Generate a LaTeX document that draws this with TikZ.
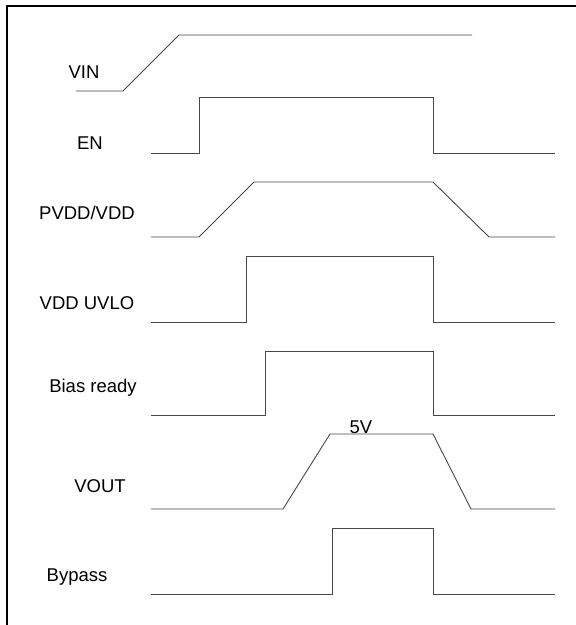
\documentclass[tikz,border=0pt]{standalone}
\usepackage{fontspec}
\setmainfont{Liberation Sans}
\begin{document}
\begin{tikzpicture}[x=1pt,y=-1pt,
  wave/.style={line width=0.9pt,draw=black!72,line join=miter},
  lbl/.style={font=\fontsize{18.5}{20}\selectfont,inner sep=0pt,anchor=center},
  frame/.style={line width=2.6pt,draw=black}]
\useasboundingbox (0,0) rectangle (576,625);
% frame (left and top edges)
\draw[frame] (7,626) -- (7,6) -- (577,6);
% VIN
\node[lbl] (vin) at (84,72) {VIN};
\draw[wave] (76,91) -- (123,91) -- (179,35) -- (472,35);
% EN
\node[lbl] (en) at (90,143) {EN};
\draw[wave] (151,153) -- (199,153) -- (199,97) -- (433,97) -- (433,153) -- (555,153);
% PVDD/VDD
\node[lbl] (pvdd) at (87,213) {PVDD/VDD};
\draw[wave] (151,237) -- (199,237) -- (254,182) -- (433,182) -- (489,237) -- (555,237);
% VDD UVLO
\node[lbl] (uvlo) at (87,303) {VDD UVLO};
\draw[wave] (151,322) -- (246,322) -- (246,256) -- (433,256) -- (433,322) -- (555,322);
% Bias ready
\node[lbl] (bias) at (93,388) {Bias ready};
\draw[wave] (151,415) -- (265,415) -- (265,351) -- (433,351) -- (433,415) -- (555,415);
% VOUT
\node[lbl] (vout) at (100,486) {VOUT};
\draw[wave] (151,509) -- (283,509) -- (330,434) -- (433,434) -- (471,509) -- (555,509);
\node[lbl] (fivev) at (361,427) {5V};
% Bypass
\node[lbl] (bypass) at (77,577) {Bypass};
\draw[wave] (151,594) -- (332,594) -- (332,528) -- (433,528) -- (433,594) -- (555,594);
\end{tikzpicture}
\end{document}
